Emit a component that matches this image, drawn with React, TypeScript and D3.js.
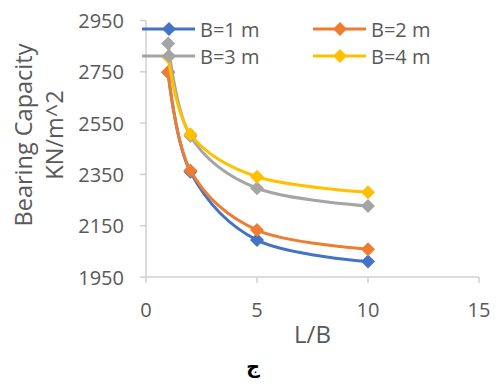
import React from "react";
import * as d3 from "d3";

const xValues = [1, 2, 5, 10];
const seriesNames = ["B=1 m", "B=2 m", "B=3 m", "B=4 m"];
const blueValues = [2748, 2360, 2094, 2010];
const orangeValues = [2748, 2365, 2133, 2058];
const greyValues = [2860, 2500, 2296, 2227];
const yellowValues = [2808, 2507, 2341, 2280];
const seriesColors = ["#4472C4", "#ED7D31", "#A5A5A5", "#FFC000"];
const yTicks = [1950, 2150, 2350, 2550, 2750, 2950];
const xTicks = [0, 5, 10, 15];

const W = 497;
const H = 385;
const FONT = "'Open Sans', sans-serif";
const TXT = "#595959";
const AXIS = "#D0D0D0";

export default function App() {
  const x = d3.scaleLinear().domain([0, 15]).range([146, 479]);
  const y = d3.scaleLinear().domain([1950, 2950]).range([277, 20.5]);
  const allSeries = [blueValues, orangeValues, greyValues, yellowValues];
  const line = d3
    .line<[number, number]>()
    .x((d) => x(d[0]))
    .y((d) => y(d[1]))
    .curve(d3.curveCardinal.tension(0));
  const diamond = (cx: number, cy: number, r: number) =>
    `M${cx},${cy - r}L${cx + r},${cy}L${cx},${cy + r}L${cx - r},${cy}Z`;

  const legendPos = [
    { lx: 142, ly: 29 },
    { lx: 313, ly: 29 },
    { lx: 142, ly: 56 },
    { lx: 313, ly: 56 },
  ];

  return (
    <svg width={W} height={H} style={{ display: "block", position: "absolute", left: 0, top: 0, background: "#fff" }}>
      {/* axes */}
      <line x1={x(0)} x2={x(0)} y1={y(2950)} y2={y(1950)} stroke={AXIS} strokeWidth={1.5} />
      <line x1={x(0)} x2={x(15)} y1={y(1950)} y2={y(1950)} stroke={AXIS} strokeWidth={1.5} />
      {yTicks.map((t) => (
        <g key={"y" + t}>
          <line x1={x(0) - 6} x2={x(0)} y1={y(t)} y2={y(t)} stroke={AXIS} strokeWidth={1.5} />
          <text x={124} y={y(t)} textAnchor="end" dominantBaseline="central" fontFamily={FONT} fontSize={20} fill={TXT}>
            {t}
          </text>
        </g>
      ))}
      {xTicks.map((t) => (
        <g key={"x" + t}>
          <line x1={x(t)} x2={x(t)} y1={y(1950)} y2={y(1950) + 6} stroke={AXIS} strokeWidth={1.5} />
          <text x={x(t)} y={317} textAnchor="middle" fontFamily={FONT} fontSize={20} fill={TXT}>
            {t}
          </text>
        </g>
      ))}
      {/* axis titles */}
      <text x={312.5} y={343} textAnchor="middle" fontFamily={FONT} fontSize={24} fill={TXT}>
        L/B
      </text>
      <text transform="translate(0,135) rotate(-90)" textAnchor="middle" fontFamily={FONT} fontSize={23.5} fill={TXT}>
        <tspan x={0} y={32}>Bearing Capacity</tspan>
        <tspan x={0} y={63}>KN/m^2</tspan>
      </text>
      <text x={253} y={373} textAnchor="middle" fontFamily="'DejaVu Sans', sans-serif" fontSize={19} fontWeight="bold" fill="#000">
        ج
      </text>
      {/* series */}
      {allSeries.map((vals, i) => {
        const pts = xValues.map((xv, j) => [xv, vals[j]] as [number, number]);
        return (
          <g key={"s" + i}>
            <path d={line(pts) || ""} fill="none" stroke={seriesColors[i]} strokeWidth={3} strokeLinejoin="round" />
            {pts.map((p, j) => (
              <path key={j} d={diamond(x(p[0]), y(p[1]), 7)} fill={seriesColors[i]} />
            ))}
          </g>
        );
      })}
      {/* legend */}
      {seriesNames.map((name, i) => {
        const { lx, ly } = legendPos[i];
        return (
          <g key={"l" + i}>
            <line x1={lx} x2={lx + 53} y1={ly} y2={ly} stroke={seriesColors[i]} strokeWidth={3} />
            <path d={diamond(lx + 27, ly, 7)} fill={seriesColors[i]} />
            <text x={lx + 58} y={ly} dominantBaseline="central" fontFamily={FONT} fontSize={20} fill={TXT}>
              {name}
            </text>
          </g>
        );
      })}
    </svg>
  );
}
